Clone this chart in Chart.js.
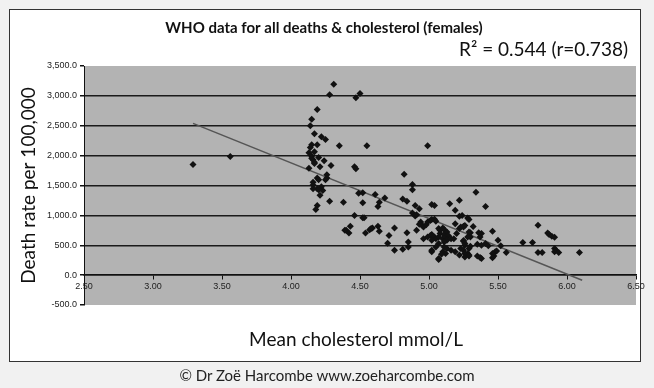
<!DOCTYPE html>
<html>
<head>
<meta charset="utf-8">
<script src="https://cdn.jsdelivr.net/npm/chart.js@4.4.0/dist/chart.umd.min.js"></script>
<style>
  html, body { margin: 0; padding: 0; background: #f1f1f1; }
  #wrap { position: relative; width: 654px; height: 388px; overflow: hidden; }
  #frame { position: absolute; left: 9px; top: 9px; width: 630px; height: 351px; background: #fff; border: 1px solid #333; }
  #chart { position: absolute; left: 0; top: 0; }
  #credit { position: absolute; left: 0; width: 654px; top: 366px; text-align: center; font: 15px Lato, sans-serif; color: #222; }
</style>
</head>
<body>
<div id="wrap">
  <div id="frame"></div>
  <canvas id="chart" width="654" height="388"></canvas>
  <div id="credit">© Dr Zoë Harcombe www.zoeharcombe.com</div>
</div>
<script>
var chartTitle = 'WHO data for all deaths & cholesterol (females)';
var rSquaredLabel = 'R² = 0.544 (r=0.738)';
var xTitle = 'Mean cholesterol mmol/L';
var yTitle = 'Death rate per 100,000';

// mean cholesterol (mmol/L) per country
var cholesterol = [
    3.29, 3.56,
    4.31, 4.28, 4.19, 4.15, 4.14, 4.17, 4.22, 4.25, 4.35, 4.19, 4.15, 4.14, 4.17, 4.13,
    4.15, 4.15, 4.16, 4.17, 4.17, 4.20, 4.24, 4.13, 4.21, 4.29, 4.26, 4.19, 4.20, 4.26,
    4.25, 4.16, 4.16, 4.19, 4.23, 4.22, 4.16, 4.20, 4.21, 4.28, 4.19, 4.18, 4.38, 4.39,
    4.47, 4.50, 4.55, 4.99, 4.46, 4.47, 4.82, 4.88, 4.88, 4.49, 4.52, 4.61, 4.68, 4.64,
    4.63, 4.52, 4.81, 4.84, 4.46, 4.52, 4.53, 4.43, 4.40, 4.42, 4.57, 4.58, 4.54, 4.63,
    4.64, 4.71, 4.75, 4.70, 4.75, 4.81, 4.85, 4.85, 4.84, 4.59,
    4.90, 4.93, 5.02, 5.04, 5.15, 5.22, 4.88, 4.90, 4.91, 4.91, 4.94, 4.95, 4.93, 4.96,
    4.98, 4.99, 5.01, 5.02, 5.04, 5.05, 4.96, 4.99, 5.01, 5.02, 5.04, 5.05, 5.02, 5.07,
    5.08, 5.10, 5.11, 5.08, 5.11, 5.13, 5.07, 5.10, 5.12, 5.14, 5.13, 5.16, 5.11, 5.07,
    5.05, 5.11, 5.13, 5.10, 5.12, 5.16, 5.07, 5.19, 5.23, 5.22, 5.25, 5.20, 5.18, 5.02,
    5.07, 5.02, 5.09, 5.22, 5.19, 5.22, 5.24, 5.19, 5.23,
    5.34, 5.41, 5.28, 5.29, 5.25, 5.32, 5.30, 5.30, 5.36, 5.38, 5.37, 5.46, 5.25, 5.26,
    5.30, 5.35, 5.38, 5.41, 5.43, 5.50, 5.52, 5.25, 5.28, 5.29, 5.26, 5.35, 5.37, 5.38,
    5.46, 5.48, 5.49, 5.47, 5.46, 5.56, 5.68, 5.75, 5.79, 5.86, 5.87, 5.89, 5.91, 5.79,
    5.82, 5.91, 5.92, 5.91, 5.94, 6.09, 5.26, 5.29, 5.29, 5.28, 5.25, 5.26, 5.29, 5.26
];

// all-cause death rate per 100,000, same order
var deathRate = [
    1850, 1985,
    3195, 3020, 2770, 2610, 2500, 2365, 2315, 2270, 2165, 2180, 2180, 2135, 2065, 2050,
    1995, 1955, 1930, 1890, 1870, 1970, 1915, 1790, 1815, 1835, 1680, 1625, 1595, 1625,
    1595, 1555, 1510, 1445, 1415, 1480, 1445, 1430, 1335, 1235, 1165, 1100, 1220, 750,
    2970, 3040, 2165, 2165, 1815, 1780, 1690, 1515, 1430, 1370, 1380, 1350, 1290, 1220,
    1150, 1210, 1275, 1235, 1000, 960, 960, 820, 750, 705, 760, 780, 705, 820,
    735, 665, 790, 535, 415, 435, 470, 555, 710, 790,
    1165, 1110, 1180, 1165, 1195, 1255, 1040, 990, 1010, 750, 890, 835, 850, 805,
    845, 890, 915, 930, 935, 900, 610, 640, 665, 680, 640, 610, 585, 780,
    750, 790, 765, 695, 680, 720, 640, 610, 640, 665, 585, 610, 555, 530,
    470, 470, 445, 390, 360, 415, 280, 390, 445, 780, 805, 695, 610, 415,
    260, 390, 350, 335, 1085, 985, 1000, 860, 805,
    1385, 1150, 955, 930, 820, 815, 710, 640, 710, 695, 640, 735, 565, 500,
    485, 515, 500, 530, 490, 585, 490, 415, 360, 335, 305, 320, 295, 280,
    360, 390, 405, 320, 290, 380, 545, 545, 835, 705, 680, 650, 635, 380,
    380, 445, 415, 390, 380, 380, 360, 320, 720, 640, 580, 530, 445, 830
];

// linear trend line end points
var trendX = [3.29, 6.11];
var trendY = [2540, -85];

var xTicks = { min: 2.5, max: 6.5, step: 0.5 };
var yTicks = { min: -500, max: 3500, step: 500 };

const plotBackground = {
    id: 'plotBackground',
    beforeDraw(chart) {
        const { ctx, chartArea: a } = chart;
        ctx.save();
        ctx.fillStyle = '#b3b3b3';
        ctx.fillRect(a.left, a.top, a.right - a.left, a.bottom - a.top);
        ctx.restore();
    }
};

// R² note and the x axis title (the x axis sits on y = 0, so its own title would be inside the plot)
const extraText = {
    id: 'extraText',
    afterDraw(chart) {
        const ctx = chart.ctx;
        const a = chart.chartArea;
        ctx.save();
        ctx.fillStyle = '#111';
        ctx.font = '19px Lato, sans-serif';
        ctx.textBaseline = 'middle';
        ctx.textAlign = 'right';
        ctx.fillText(rSquaredLabel, 628, 50);
        ctx.textAlign = 'center';
        ctx.fillText(xTitle, (a.left + a.right) / 2 - 4, 340);
        ctx.restore();
    }
};

const ctx = document.getElementById('chart').getContext('2d');
new Chart(ctx, {
    type: 'scatter',
    data: {
        datasets: [{
            label: 'Countries',
            data: cholesterol.map((x, i) => ({ x: x, y: deathRate[i] })),
            pointStyle: 'rectRot',
            pointRadius: 3.5,
            backgroundColor: '#111',
            borderWidth: 0
        }, {
            label: 'Trend',
            data: trendX.map((x, i) => ({ x: x, y: trendY[i] })),
            showLine: true,
            pointRadius: 0,
            borderColor: '#555',
            borderWidth: 1.5
        }]
    },
    options: {
        responsive: false,
        animation: false,
        layout: {
            padding: { left: 12, right: 18, top: 0, bottom: 83 }
        },
        plugins: {
            legend: { display: false },
            tooltip: { enabled: false },
            title: {
                display: true,
                text: chartTitle,
                color: '#111',
                font: { family: 'Lato', size: 15, weight: 'bold' },
                padding: { top: 19, bottom: 29 }
            }
        },
        scales: {
            x: {
                type: 'linear',
                position: { y: 0 },
                min: xTicks.min,
                max: xTicks.max,
                border: { display: true, color: '#111', width: 1.5 },
                grid: { drawOnChartArea: false, drawTicks: true, tickLength: 4, tickColor: '#111' },
                ticks: {
                    stepSize: xTicks.step,
                    autoSkip: false,
                    maxRotation: 0,
                    padding: 2,
                    color: '#222',
                    font: { family: 'Liberation Sans', size: 9 },
                    callback: (v) => v.toFixed(2)
                }
            },
            y: {
                type: 'linear',
                min: yTicks.min,
                max: yTicks.max,
                afterFit: (scale) => { scale.width = 72; },
                border: { display: true, color: '#111', width: 1 },
                grid: {
                    color: (c) => (c.tick.value === yTicks.min || c.tick.value === yTicks.max) ? 'rgba(0,0,0,0)' : '#1a1a1a',
                    lineWidth: 1.5,
                    tickLength: 4,
                    tickColor: '#111'
                },
                ticks: {
                    stepSize: yTicks.step,
                    padding: 3,
                    color: '#222',
                    font: { family: 'Liberation Sans', size: 9 },
                    callback: (v) => v.toLocaleString('en-US', { minimumFractionDigits: 1, maximumFractionDigits: 1 })
                },
                title: {
                    display: true,
                    text: yTitle,
                    color: '#111',
                    font: { family: 'Lato', size: 19 },
                    padding: { top: 5, bottom: 0 }
                }
            }
        }
    },
    plugins: [plotBackground, extraText]
});
</script>
</body>
</html>
